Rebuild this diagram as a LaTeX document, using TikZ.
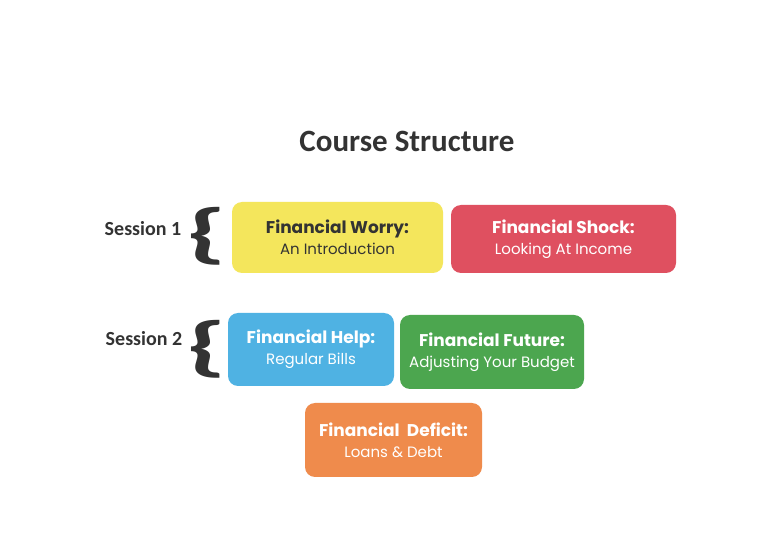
\documentclass[tikz,border=0pt]{standalone}
\usepackage{fontspec}
\setmainfont{Carlito}
\newfontfamily\boxfont{Poppins}
\usetikzlibrary{positioning}
\definecolor{worry}{HTML}{F4E65C}
\definecolor{shock}{HTML}{DF5060}
\definecolor{help}{HTML}{4FB2E3}
\definecolor{future}{HTML}{4CA64F}
\definecolor{deficit}{HTML}{EF8B4C}
\definecolor{ink}{HTML}{333333}
\newcommand{\topichead}[2]{{\fontsize{17}{21}\selectfont\bfseries #1}\\{\fontsize{15}{21}\selectfont #2}}
\tikzset{
  topic/.style={rounded corners=10pt, align=center, inner sep=0pt,
    text=white, font=\boxfont\fontsize{15}{21}\selectfont},
  session/.style={font=\bfseries\fontsize{20}{21}\selectfont, text=ink},
  curly/.style={font=\fontsize{66}{66}\selectfont\bfseries, text=ink, inner sep=0pt}
}
\begin{document}
\begin{tikzpicture}[x=1pt,y=-1pt]
\useasboundingbox[fill=white] (0,0) rectangle (772,553);
\node [font=\bfseries\fontsize{31}{32}\selectfont, text=ink] (title) at (407,141) {Course Structure};
% session 1
\node [session] (s1) at (143,229) {Session 1};
\node [curly] (b1) at (207,236) {\scalebox{1.8}[1]{\{}};
\node [topic, fill=worry, text=ink, minimum width=211pt, minimum height=71pt] (worry) at (337.5,237.5)
  {\topichead{Financial Worry:}{An Introduction}};
\node [topic, fill=shock, minimum width=225pt, minimum height=68pt] (shock) at (563.5,239)
  {\topichead{Financial Shock:}{Looking At Income}};
% session 2
\node [session] (s2) at (144,339) {Session 2};
\node [curly] (b2) at (207,349) {\scalebox{1.8}[1]{\{}};
\node [topic, fill=help, minimum width=166pt, minimum height=73pt] (help) at (311,349.5)
  {\topichead{Financial Help:}{Regular Bills}};
\node [topic, fill=future, minimum width=184pt, minimum height=74pt] (future) at (492,352)
  {\topichead{Financial Future:}{Adjusting Your Budget}};
\node [topic, fill=deficit, minimum width=177pt, minimum height=74pt] (deficit) at (393.5,440)
  {\topichead{Financial\ \ Deficit:}{Loans \& Debt}};
\end{tikzpicture}
\end{document}
